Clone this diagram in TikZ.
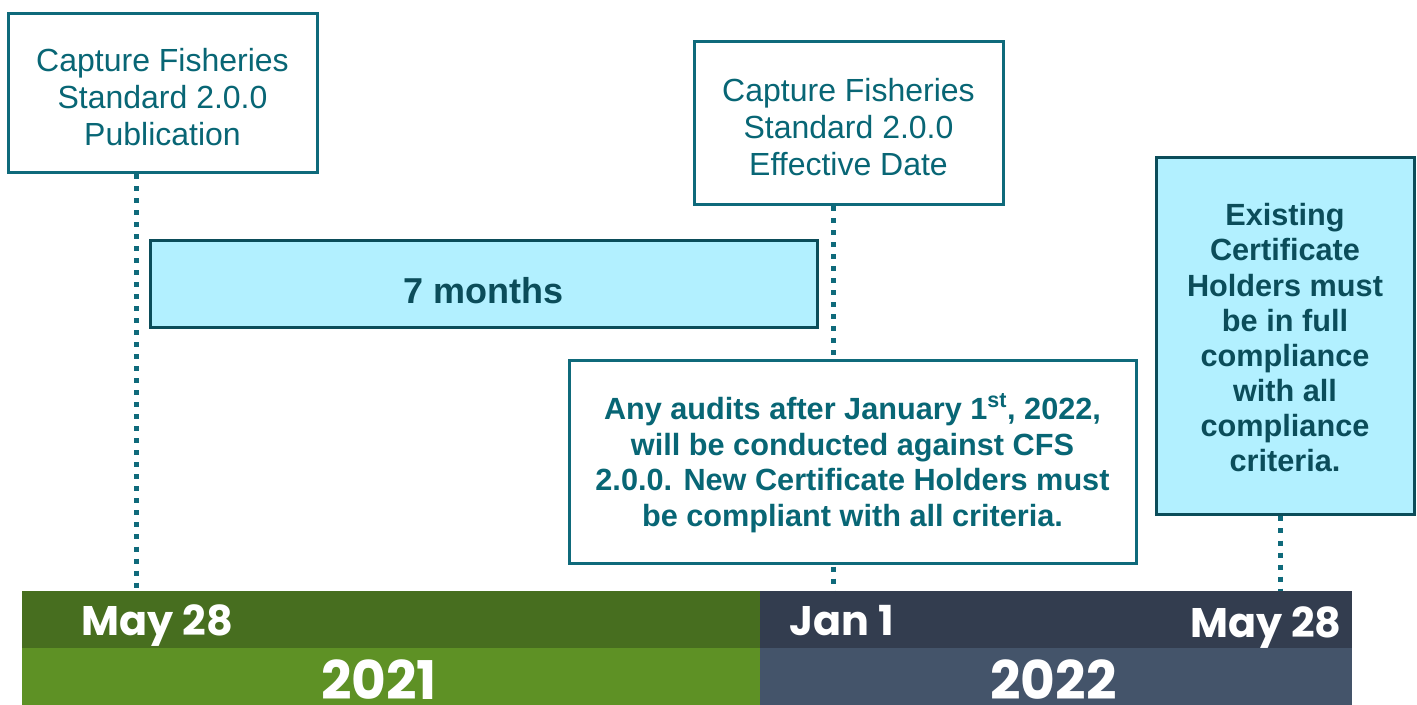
\documentclass[tikz,border=0pt]{standalone}
\usepackage{fontspec}
\setmainfont{Liberation Sans}
\newfontfamily\gothicfont{Poppins}
\usepackage{xcolor}
\usepackage{tikz}
\usetikzlibrary{positioning,backgrounds,calc}
\definecolor{tealline}{RGB}{15,106,123}
\definecolor{tealtext}{RGB}{8,102,117}
\definecolor{darkteal}{RGB}{11,77,90}
\definecolor{lightcyan}{RGB}{178,240,255}
\definecolor{greentop}{RGB}{71,110,31}
\definecolor{greenbot}{RGB}{94,145,37}
\definecolor{slatetop}{RGB}{51,61,79}
\definecolor{slatebot}{RGB}{68,84,106}
% strut that pushes the first line of a box down a little
\newcommand\up[1]{\rule{0pt}{#1}}
\tikzset{
	% Specifications for style of nodes:
	event/.style = {rectangle, fill=white,
	draw=tealline, line width=2.25pt,
	align=center, text=tealtext, inner sep=0pt,
	font=\fontsize{24}{27.75}\selectfont},
	note/.style = {rectangle, fill=white,
	draw=tealline, line width=2.25pt,
	align=center, text=tealtext, inner sep=0pt,
	font=\fontsize{23}{26.6}\selectfont\bfseries},
	span/.style = {rectangle, fill=lightcyan,
	draw=darkteal, line width=2.25pt,
	align=center, text=darkteal, inner sep=0pt,
	font=\fontsize{23}{26.3}\selectfont\bfseries},
	bar/.style = {rectangle, inner sep=0pt, outer sep=0pt},
	date/.style = {text=white, inner sep=0pt, anchor=base,
	font=\gothicfont\fontsize{31}{34}\selectfont\bfseries},
	year/.style = {text=white, inner sep=0pt, anchor=base,
	font=\gothicfont\fontsize{40}{44}\selectfont\bfseries},
	tick/.style = {draw=tealline, line width=3.75pt,
	dash pattern=on 3.75pt off 5.25pt},
}

\begin{document}
\begin{tikzpicture}[x=0.75pt, y=-0.75pt]
	\useasboundingbox (0,0) rectangle (1417,705);
		% timeline bars
		\node (bar21a)[bar, fill=greentop, minimum width=553.5pt, minimum height=42.75pt] at (391,619.5) {};
		\node (bar21b)[bar, fill=greenbot, minimum width=553.5pt, minimum height=42.75pt] at (391,676.5) {};
		\node (bar22a)[bar, fill=slatetop, minimum width=444pt, minimum height=42.75pt] at (1056,619.5) {};
		\node (bar22b)[bar, fill=slatebot, minimum width=444pt, minimum height=42.75pt] at (1056,676.5) {};
		\node (may21)[date] at (157.5,635) {May 28};
		\node (jan22)[date] at (841.5,635) {Jan 1};
		\node (may22)[date] at (1266,637) {May 28};
		\node (y2021)[year] at (379,699) {2021};
		\node (y2022)[year] at (1053.5,699) {2022};
		% draw blocks
		\node (pub)[event, minimum width=231.75pt, minimum height=119.25pt] at (162.5,93.5)
			{\up{0.92em}Capture Fisheries\\Standard 2.0.0\\Publication};
		\node (eff)[event, minimum width=231.75pt, minimum height=122.25pt] at (848.5,123.5)
			{\up{0.92em}Capture Fisheries\\Standard 2.0.0\\Effective Date};
		\node (months)[span, font=\fontsize{27}{30}\selectfont\bfseries, minimum width=500.25pt, minimum height=65.25pt] at (483.5,284.5)
			{\up{1.05em}7 months};
		\node (audits)[note, minimum width=425.25pt, minimum height=151.5pt] at (852.5,462)
			{\up{0.92em}Any audits after January 1\textsuperscript{st}, 2022,\\will be conducted against CFS\\2.0.0. New Certificate Holders must\\be compliant with all criteria.};
		\node (exist)[span, minimum width=193.5pt, minimum height=267.75pt] at (1285,336.5)
			{\up{0.8em}Existing\\Certificate\\Holders must\\be in full\\compliance\\with all\\compliance\\criteria.};
		% connection coordinates on the timeline
		\coordinate (T1) at (136,591);
		\coordinate (T2) at (833,591);
		\coordinate (T3) at (1280,591);
		% draw dotted ticks
		\begin{scope}[on background layer]
		\draw[tick](T1 |- pub.south) -- (T1);
		\draw[tick](T2 |- eff.south) -- (T2);
		\draw[tick](T3 |- exist.south) -- (T3);
		\end{scope}
	\end{tikzpicture}
\end{document}
